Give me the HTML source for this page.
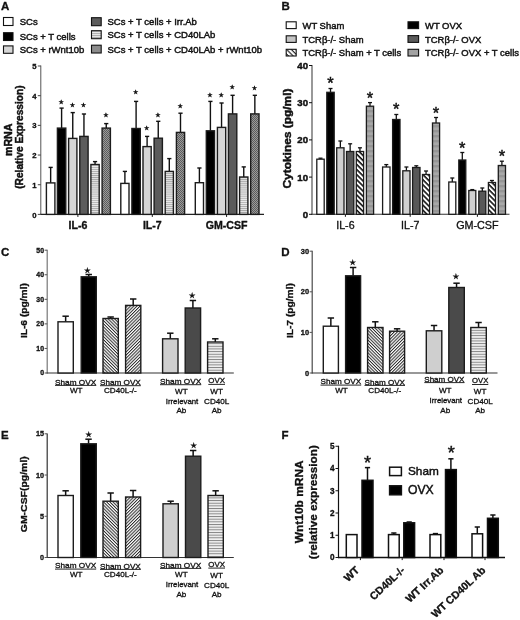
<!DOCTYPE html>
<html lang="en"><head><meta charset="utf-8"><title>Figure</title>
<style>
html,body{margin:0;padding:0;background:#fff;}
body{width:520px;height:620px;overflow:hidden;}
svg{display:block;filter:blur(0.35px);font-family:"Liberation Sans","DejaVu Sans",sans-serif;fill:#111;}
text{stroke:#111;stroke-width:0.32px;}
.lg{stroke-width:0.45px;}
.tk{stroke-width:0.32px;}
line,rect{shape-rendering:auto;}
</style></head><body>
<svg width="520" height="620" viewBox="0 0 520 620">
<defs>
<pattern id="hh" width="4" height="2.06" patternUnits="userSpaceOnUse"><rect width="4" height="2.06" fill="#ebebeb"/><rect y="0" width="4" height="0.9" fill="#a6a6a6"/></pattern>
<pattern id="hh2" width="4" height="2.66" patternUnits="userSpaceOnUse"><rect width="4" height="2.66" fill="#f0f0f0"/><rect y="0" width="4" height="0.95" fill="#858585"/></pattern>
<pattern id="dots" width="2" height="2" patternUnits="userSpaceOnUse"><rect width="2" height="2" fill="#9a9a9a"/><rect width="1" height="1" fill="#5c5c5c"/><rect x="1" y="1" width="1" height="1" fill="#5c5c5c"/></pattern>
<pattern id="d1" width="2.25" height="2.25" patternUnits="userSpaceOnUse" patternTransform="rotate(45)"><rect width="2.25" height="2.25" fill="#fff"/><rect width="2.25" height="1" fill="#2a2a2a"/></pattern>
<pattern id="d2" width="2.25" height="2.25" patternUnits="userSpaceOnUse" patternTransform="rotate(-45)"><rect width="2.25" height="2.25" fill="#fff"/><rect width="2.25" height="1" fill="#2a2a2a"/></pattern>
<pattern id="bd" width="3.6" height="3.6" patternUnits="userSpaceOnUse" patternTransform="rotate(45)"><rect width="3.6" height="3.6" fill="#fff"/><rect width="3.6" height="1.6" fill="#111"/></pattern>
<pattern id="bd2" width="3.3" height="3.3" patternUnits="userSpaceOnUse" patternTransform="rotate(45)"><rect width="3.3" height="3.3" fill="#fff"/><rect width="3.3" height="1.15" fill="#222"/></pattern>
<pattern id="bl" width="4" height="5" patternUnits="userSpaceOnUse"><rect width="4" height="5" fill="#a8a8a8"/><rect width="4" height="2.4" fill="#969696"/></pattern>
</defs>
<rect width="520" height="620" fill="#fff" stroke="none"/>

<g id="panelA">
<text x="1" y="10.2" font-size="11.5" font-weight="bold">A</text>
<rect x="3.5" y="17.5" width="9.5" height="8" fill="#fff" stroke="#111" stroke-width="1.1"/>
<text x="19.7" y="25.4" font-size="9.5" class="lg">SCs</text>
<rect x="3.5" y="32.7" width="9.5" height="7.8" fill="#000" stroke="#111" stroke-width="1.1"/>
<text x="19.7" y="40.3" font-size="9.5" class="lg">SCs + T cells</text>
<rect x="3.5" y="45.9" width="9.5" height="7.4" fill="#d6d6d6" stroke="#111" stroke-width="1.1"/>
<text x="19.7" y="53.2" font-size="9.5" class="lg">SCs + rWnt10b</text>
<rect x="91.5" y="17.7" width="9.7" height="8" fill="#5c5c5c" stroke="#111" stroke-width="1.1"/>
<text x="107.5" y="25.4" font-size="9.5" class="lg">SCs + T cells + Irr.Ab</text>
<rect x="91.5" y="30.7" width="9.7" height="8" fill="url(#hh)" stroke="#111" stroke-width="1.1"/>
<text x="107.5" y="37.8" font-size="9.5" class="lg">SCs + T cells + CD40LAb</text>
<rect x="91.5" y="45.2" width="9.7" height="7.8" fill="#8c8c8c" stroke="#111" stroke-width="1.1"/>
<text x="107.5" y="52.8" font-size="9.5" class="lg">SCs + T cells + CD40LAb + rWnt10b</text>
<line x1="40.8" y1="65.5" x2="40.8" y2="214.9" stroke="#555" stroke-width="1.0"/>
<line x1="40.3" y1="214.4" x2="264" y2="214.4" stroke="#222" stroke-width="1.1"/>
<line x1="37.8" y1="214.4" x2="40.8" y2="214.4" stroke="#444" stroke-width="1.0"/>
<text x="36.6" y="217.5" font-size="7.7" font-weight="bold" text-anchor="end">0</text>
<line x1="37.8" y1="184.72" x2="40.8" y2="184.72" stroke="#444" stroke-width="1.0"/>
<text x="36.6" y="187.82" font-size="7.7" font-weight="bold" text-anchor="end">1</text>
<line x1="37.8" y1="155.04" x2="40.8" y2="155.04" stroke="#444" stroke-width="1.0"/>
<text x="36.6" y="158.14" font-size="7.7" font-weight="bold" text-anchor="end">2</text>
<line x1="37.8" y1="125.36" x2="40.8" y2="125.36" stroke="#444" stroke-width="1.0"/>
<text x="36.6" y="128.46" font-size="7.7" font-weight="bold" text-anchor="end">3</text>
<line x1="37.8" y1="95.68" x2="40.8" y2="95.68" stroke="#444" stroke-width="1.0"/>
<text x="36.6" y="98.78" font-size="7.7" font-weight="bold" text-anchor="end">4</text>
<line x1="37.8" y1="66" x2="40.8" y2="66" stroke="#444" stroke-width="1.0"/>
<text x="36.6" y="69.1" font-size="7.7" font-weight="bold" text-anchor="end">5</text>
<text transform="translate(11.5 139.8) rotate(-90)" font-size="10" font-weight="bold" text-anchor="middle" textLength="32.5" lengthAdjust="spacingAndGlyphs" class="lg">mRNA</text>
<text transform="translate(23.4 137.1) rotate(-90)" font-size="10" font-weight="bold" text-anchor="middle" textLength="103.4" lengthAdjust="spacingAndGlyphs" class="lg">(Relative Expression)</text>
<line x1="50.65" y1="167.4" x2="50.65" y2="182.9" stroke="#111" stroke-width="1.4"/>
<line x1="48.55" y1="167.4" x2="52.75" y2="167.4" stroke="#111" stroke-width="1.4"/>
<rect x="46.4" y="182.9" width="8.5" height="31.5" fill="#fff" stroke="#1c1c1c" stroke-width="1.4"/>
<line x1="61.6" y1="108.1" x2="61.6" y2="128.1" stroke="#111" stroke-width="1.4"/>
<line x1="59.5" y1="108.1" x2="63.7" y2="108.1" stroke="#111" stroke-width="1.4"/>
<rect x="57.4" y="128.1" width="8.4" height="86.3" fill="#000" stroke="#1c1c1c" stroke-width="1.4"/>
<text x="61.2" y="103.8" font-size="6" text-anchor="middle">★</text>
<line x1="72.75" y1="112.6" x2="72.75" y2="138.4" stroke="#111" stroke-width="1.4"/>
<line x1="70.65" y1="112.6" x2="74.85" y2="112.6" stroke="#111" stroke-width="1.4"/>
<rect x="68.6" y="138.4" width="8.3" height="76" fill="#d6d6d6" stroke="#1c1c1c" stroke-width="1.4"/>
<text x="72.35" y="106.8" font-size="6" text-anchor="middle">★</text>
<line x1="83.95" y1="114" x2="83.95" y2="136.4" stroke="#111" stroke-width="1.4"/>
<line x1="81.85" y1="114" x2="86.05" y2="114" stroke="#111" stroke-width="1.4"/>
<rect x="79.8" y="136.4" width="8.3" height="78" fill="#5c5c5c" stroke="#1c1c1c" stroke-width="1.4"/>
<text x="83.55" y="106.8" font-size="6" text-anchor="middle">★</text>
<line x1="95.05" y1="161.6" x2="95.05" y2="164.5" stroke="#111" stroke-width="1.4"/>
<line x1="92.95" y1="161.6" x2="97.15" y2="161.6" stroke="#111" stroke-width="1.4"/>
<rect x="90.9" y="164.5" width="8.3" height="49.9" fill="url(#hh)" stroke="#1c1c1c" stroke-width="1.4"/>
<line x1="106.25" y1="123.6" x2="106.25" y2="128.1" stroke="#111" stroke-width="1.4"/>
<line x1="104.15" y1="123.6" x2="108.35" y2="123.6" stroke="#111" stroke-width="1.4"/>
<rect x="102.1" y="128.1" width="8.3" height="86.3" fill="url(#dots)" stroke="#1c1c1c" stroke-width="1.4"/>
<text x="105.85" y="117.3" font-size="6" text-anchor="middle">★</text>
<line x1="124.9" y1="171.4" x2="124.9" y2="183.4" stroke="#111" stroke-width="1.4"/>
<line x1="122.8" y1="171.4" x2="127" y2="171.4" stroke="#111" stroke-width="1.4"/>
<rect x="120.8" y="183.4" width="8.2" height="31" fill="#fff" stroke="#1c1c1c" stroke-width="1.4"/>
<line x1="136.1" y1="101.4" x2="136.1" y2="128.5" stroke="#111" stroke-width="1.4"/>
<line x1="134" y1="101.4" x2="138.2" y2="101.4" stroke="#111" stroke-width="1.4"/>
<rect x="131.9" y="128.5" width="8.4" height="85.9" fill="#000" stroke="#1c1c1c" stroke-width="1.4"/>
<text x="135.7" y="94.2" font-size="6" text-anchor="middle">★</text>
<line x1="147.1" y1="136.4" x2="147.1" y2="146.6" stroke="#111" stroke-width="1.4"/>
<line x1="145" y1="136.4" x2="149.2" y2="136.4" stroke="#111" stroke-width="1.4"/>
<rect x="143" y="146.6" width="8.2" height="67.8" fill="#d6d6d6" stroke="#1c1c1c" stroke-width="1.4"/>
<text x="146.7" y="130.3" font-size="6" text-anchor="middle">★</text>
<line x1="158.25" y1="121.3" x2="158.25" y2="138.2" stroke="#111" stroke-width="1.4"/>
<line x1="156.15" y1="121.3" x2="160.35" y2="121.3" stroke="#111" stroke-width="1.4"/>
<rect x="154.1" y="138.2" width="8.3" height="76.2" fill="#5c5c5c" stroke="#1c1c1c" stroke-width="1.4"/>
<text x="157.85" y="116.8" font-size="6" text-anchor="middle">★</text>
<line x1="169.3" y1="158.6" x2="169.3" y2="171.4" stroke="#111" stroke-width="1.4"/>
<line x1="167.2" y1="158.6" x2="171.4" y2="158.6" stroke="#111" stroke-width="1.4"/>
<rect x="165.2" y="171.4" width="8.2" height="43" fill="url(#hh)" stroke="#1c1c1c" stroke-width="1.4"/>
<line x1="180.5" y1="113.2" x2="180.5" y2="132.4" stroke="#111" stroke-width="1.4"/>
<line x1="178.4" y1="113.2" x2="182.6" y2="113.2" stroke="#111" stroke-width="1.4"/>
<rect x="176.4" y="132.4" width="8.2" height="82" fill="url(#dots)" stroke="#1c1c1c" stroke-width="1.4"/>
<text x="180.1" y="108.4" font-size="6" text-anchor="middle">★</text>
<line x1="199.4" y1="168" x2="199.4" y2="182.7" stroke="#111" stroke-width="1.4"/>
<line x1="197.3" y1="168" x2="201.5" y2="168" stroke="#111" stroke-width="1.4"/>
<rect x="195.3" y="182.7" width="8.2" height="31.7" fill="#fff" stroke="#1c1c1c" stroke-width="1.4"/>
<line x1="210.4" y1="101.4" x2="210.4" y2="130.8" stroke="#111" stroke-width="1.4"/>
<line x1="208.3" y1="101.4" x2="212.5" y2="101.4" stroke="#111" stroke-width="1.4"/>
<rect x="206.3" y="130.8" width="8.2" height="83.6" fill="#000" stroke="#1c1c1c" stroke-width="1.4"/>
<text x="210" y="96.5" font-size="6" text-anchor="middle">★</text>
<line x1="221.55" y1="103" x2="221.55" y2="127.4" stroke="#111" stroke-width="1.4"/>
<line x1="219.45" y1="103" x2="223.65" y2="103" stroke="#111" stroke-width="1.4"/>
<rect x="217.4" y="127.4" width="8.3" height="87" fill="#d6d6d6" stroke="#1c1c1c" stroke-width="1.4"/>
<text x="221.15" y="97.1" font-size="6" text-anchor="middle">★</text>
<line x1="232.6" y1="95.3" x2="232.6" y2="113.9" stroke="#111" stroke-width="1.4"/>
<line x1="230.5" y1="95.3" x2="234.7" y2="95.3" stroke="#111" stroke-width="1.4"/>
<rect x="228.4" y="113.9" width="8.4" height="100.5" fill="#5c5c5c" stroke="#1c1c1c" stroke-width="1.4"/>
<text x="232.2" y="88.6" font-size="6" text-anchor="middle">★</text>
<line x1="243.75" y1="166.9" x2="243.75" y2="177" stroke="#111" stroke-width="1.4"/>
<line x1="241.65" y1="166.9" x2="245.85" y2="166.9" stroke="#111" stroke-width="1.4"/>
<rect x="239.6" y="177" width="8.3" height="37.4" fill="url(#hh)" stroke="#1c1c1c" stroke-width="1.4"/>
<line x1="254.85" y1="95.3" x2="254.85" y2="113.9" stroke="#111" stroke-width="1.4"/>
<line x1="252.75" y1="95.3" x2="256.95" y2="95.3" stroke="#111" stroke-width="1.4"/>
<rect x="250.7" y="113.9" width="8.3" height="100.5" fill="url(#dots)" stroke="#1c1c1c" stroke-width="1.4"/>
<text x="254.45" y="90.4" font-size="6" text-anchor="middle">★</text>
<line x1="77.9" y1="214.4" x2="77.9" y2="216.9" stroke="#111" stroke-width="1.0"/>
<text x="77.9" y="228.6" font-size="10" font-weight="bold" text-anchor="middle" textLength="18.8" lengthAdjust="spacingAndGlyphs">IL-6</text>
<line x1="152.3" y1="214.4" x2="152.3" y2="216.9" stroke="#111" stroke-width="1.0"/>
<text x="152.3" y="228.6" font-size="10" font-weight="bold" text-anchor="middle" textLength="18.8" lengthAdjust="spacingAndGlyphs">IL-7</text>
<line x1="226.6" y1="214.4" x2="226.6" y2="216.9" stroke="#111" stroke-width="1.0"/>
<text x="226.6" y="228.6" font-size="10" font-weight="bold" text-anchor="middle" textLength="41.8" lengthAdjust="spacingAndGlyphs">GM-CSF</text>
</g>
<g id="panelB">
<text x="281.5" y="10.2" font-size="11.5" font-weight="bold">B</text>
<rect x="286.2" y="21.8" width="10" height="6.8" fill="#fff" stroke="#111" stroke-width="1.1"/>
<text x="302.5" y="28.6" font-size="9.45" class="lg">WT Sham</text>
<rect x="286.2" y="35.8" width="10" height="6.6" fill="#c4c4c4" stroke="#111" stroke-width="1.1"/>
<text x="302.5" y="42.6" font-size="9.45" class="lg">TCRβ-/- Sham</text>
<rect x="286.2" y="49.3" width="10" height="6.7" fill="url(#bd2)" stroke="#111" stroke-width="1.1"/>
<text x="302.5" y="56.4" font-size="9.45" class="lg">TCRβ-/- Sham + T cells</text>
<rect x="408" y="21.8" width="10.6" height="6.8" fill="#000" stroke="#111" stroke-width="1.1"/>
<text x="425" y="28.6" font-size="9.45" class="lg">WT OVX</text>
<rect x="408" y="35.6" width="10.6" height="6.8" fill="#5a5a5a" stroke="#111" stroke-width="1.1"/>
<text x="425" y="42.6" font-size="9.45" class="lg">TCRβ-/- OVX</text>
<rect x="408" y="49.3" width="10.6" height="6.7" fill="#a2a2a2" stroke="#111" stroke-width="1.1"/>
<text x="425" y="56.4" font-size="9.45" class="lg">TCRβ-/- OVX + T cells</text>
<line x1="312" y1="65" x2="312" y2="214.8" stroke="#444" stroke-width="1.1"/>
<line x1="311.5" y1="214.3" x2="509.5" y2="214.3" stroke="#333" stroke-width="1.1"/>
<line x1="309" y1="214.3" x2="312" y2="214.3" stroke="#111" stroke-width="1.0"/>
<text x="308" y="217.8" font-size="9.6" font-weight="bold" text-anchor="end" class="lg">0</text>
<line x1="309" y1="177.1" x2="312" y2="177.1" stroke="#111" stroke-width="1.0"/>
<text x="308" y="180.6" font-size="9.6" font-weight="bold" text-anchor="end" class="lg">10</text>
<line x1="309" y1="139.9" x2="312" y2="139.9" stroke="#111" stroke-width="1.0"/>
<text x="308" y="143.4" font-size="9.6" font-weight="bold" text-anchor="end" class="lg">20</text>
<line x1="309" y1="102.7" x2="312" y2="102.7" stroke="#111" stroke-width="1.0"/>
<text x="308" y="106.2" font-size="9.6" font-weight="bold" text-anchor="end" class="lg">30</text>
<line x1="309" y1="65.5" x2="312" y2="65.5" stroke="#111" stroke-width="1.0"/>
<text x="308" y="69" font-size="9.6" font-weight="bold" text-anchor="end" class="lg">40</text>
<text transform="translate(290.9 138.5) rotate(-90)" font-size="10.6" font-weight="bold" text-anchor="middle" textLength="100" lengthAdjust="spacingAndGlyphs" class="lg">Cytokines (pg/ml)</text>
<line x1="320.5" y1="158.2" x2="320.5" y2="159.2" stroke="#111" stroke-width="1.3"/>
<line x1="318.5" y1="158.2" x2="322.5" y2="158.2" stroke="#111" stroke-width="1.3"/>
<rect x="316.8" y="159.2" width="7.4" height="55.1" fill="#fff" stroke="#1c1c1c" stroke-width="1.3"/>
<line x1="330.5" y1="88.5" x2="330.5" y2="92.3" stroke="#111" stroke-width="1.3"/>
<line x1="328.5" y1="88.5" x2="332.5" y2="88.5" stroke="#111" stroke-width="1.3"/>
<rect x="326.8" y="92.3" width="7.4" height="122" fill="#000" stroke="#1c1c1c" stroke-width="1.3"/>
<text x="330.5" y="89.2" font-size="16.5" text-anchor="middle" class="lg">*</text>
<line x1="340.35" y1="141" x2="340.35" y2="147.8" stroke="#111" stroke-width="1.3"/>
<line x1="338.35" y1="141" x2="342.35" y2="141" stroke="#111" stroke-width="1.3"/>
<rect x="336.7" y="147.8" width="7.3" height="66.5" fill="#d0d0d0" stroke="#1c1c1c" stroke-width="1.3"/>
<line x1="350.15" y1="143.8" x2="350.15" y2="151.5" stroke="#111" stroke-width="1.3"/>
<line x1="348.15" y1="143.8" x2="352.15" y2="143.8" stroke="#111" stroke-width="1.3"/>
<rect x="346.5" y="151.5" width="7.3" height="62.8" fill="#585858" stroke="#1c1c1c" stroke-width="1.3"/>
<line x1="359.95" y1="147.8" x2="359.95" y2="151.5" stroke="#111" stroke-width="1.3"/>
<line x1="357.95" y1="147.8" x2="361.95" y2="147.8" stroke="#111" stroke-width="1.3"/>
<rect x="356.3" y="151.5" width="7.3" height="62.8" fill="url(#bd)" stroke="#1c1c1c" stroke-width="1.3"/>
<line x1="370" y1="102.6" x2="370" y2="106.2" stroke="#111" stroke-width="1.3"/>
<line x1="368" y1="102.6" x2="372" y2="102.6" stroke="#111" stroke-width="1.3"/>
<rect x="366.4" y="106.2" width="7.2" height="108.1" fill="url(#bl)" stroke="#1c1c1c" stroke-width="1.3"/>
<text x="370" y="104.2" font-size="16.5" text-anchor="middle" class="lg">*</text>
<line x1="386.3" y1="164.6" x2="386.3" y2="167" stroke="#111" stroke-width="1.3"/>
<line x1="384.3" y1="164.6" x2="388.3" y2="164.6" stroke="#111" stroke-width="1.3"/>
<rect x="382.6" y="167" width="7.4" height="47.3" fill="#fff" stroke="#1c1c1c" stroke-width="1.3"/>
<line x1="396.3" y1="114.5" x2="396.3" y2="119.5" stroke="#111" stroke-width="1.3"/>
<line x1="394.3" y1="114.5" x2="398.3" y2="114.5" stroke="#111" stroke-width="1.3"/>
<rect x="392.6" y="119.5" width="7.4" height="94.8" fill="#000" stroke="#1c1c1c" stroke-width="1.3"/>
<text x="396.3" y="114.5" font-size="16.5" text-anchor="middle" class="lg">*</text>
<line x1="406.4" y1="167" x2="406.4" y2="170.8" stroke="#111" stroke-width="1.3"/>
<line x1="404.4" y1="167" x2="408.4" y2="167" stroke="#111" stroke-width="1.3"/>
<rect x="402.8" y="170.8" width="7.2" height="43.5" fill="#d0d0d0" stroke="#1c1c1c" stroke-width="1.3"/>
<line x1="416.3" y1="165.8" x2="416.3" y2="167.5" stroke="#111" stroke-width="1.3"/>
<line x1="414.3" y1="165.8" x2="418.3" y2="165.8" stroke="#111" stroke-width="1.3"/>
<rect x="412.6" y="167.5" width="7.4" height="46.8" fill="#585858" stroke="#1c1c1c" stroke-width="1.3"/>
<line x1="426.05" y1="171" x2="426.05" y2="174.5" stroke="#111" stroke-width="1.3"/>
<line x1="424.05" y1="171" x2="428.05" y2="171" stroke="#111" stroke-width="1.3"/>
<rect x="422.5" y="174.5" width="7.1" height="39.8" fill="url(#bd)" stroke="#1c1c1c" stroke-width="1.3"/>
<line x1="436.05" y1="117.5" x2="436.05" y2="123" stroke="#111" stroke-width="1.3"/>
<line x1="434.05" y1="117.5" x2="438.05" y2="117.5" stroke="#111" stroke-width="1.3"/>
<rect x="432.5" y="123" width="7.1" height="91.3" fill="url(#bl)" stroke="#1c1c1c" stroke-width="1.3"/>
<text x="436.05" y="119.2" font-size="16.5" text-anchor="middle" class="lg">*</text>
<line x1="452.3" y1="178" x2="452.3" y2="182" stroke="#111" stroke-width="1.3"/>
<line x1="450.3" y1="178" x2="454.3" y2="178" stroke="#111" stroke-width="1.3"/>
<rect x="448.8" y="182" width="7" height="32.3" fill="#fff" stroke="#1c1c1c" stroke-width="1.3"/>
<line x1="462.3" y1="152.5" x2="462.3" y2="160" stroke="#111" stroke-width="1.3"/>
<line x1="460.3" y1="152.5" x2="464.3" y2="152.5" stroke="#111" stroke-width="1.3"/>
<rect x="458.8" y="160" width="7" height="54.3" fill="#000" stroke="#1c1c1c" stroke-width="1.3"/>
<text x="462.3" y="154.2" font-size="16.5" text-anchor="middle" class="lg">*</text>
<line x1="472.3" y1="189.6" x2="472.3" y2="190.5" stroke="#111" stroke-width="1.3"/>
<line x1="470.3" y1="189.6" x2="474.3" y2="189.6" stroke="#111" stroke-width="1.3"/>
<rect x="468.8" y="190.5" width="7" height="23.8" fill="#d0d0d0" stroke="#1c1c1c" stroke-width="1.3"/>
<line x1="482.3" y1="188" x2="482.3" y2="191.2" stroke="#111" stroke-width="1.3"/>
<line x1="480.3" y1="188" x2="484.3" y2="188" stroke="#111" stroke-width="1.3"/>
<rect x="478.8" y="191.2" width="7" height="23.1" fill="#585858" stroke="#1c1c1c" stroke-width="1.3"/>
<line x1="491.95" y1="180.5" x2="491.95" y2="182.5" stroke="#111" stroke-width="1.3"/>
<line x1="489.95" y1="180.5" x2="493.95" y2="180.5" stroke="#111" stroke-width="1.3"/>
<rect x="488.4" y="182.5" width="7.1" height="31.8" fill="url(#bd)" stroke="#1c1c1c" stroke-width="1.3"/>
<line x1="501.9" y1="161.2" x2="501.9" y2="165.5" stroke="#111" stroke-width="1.3"/>
<line x1="499.9" y1="161.2" x2="503.9" y2="161.2" stroke="#111" stroke-width="1.3"/>
<rect x="498.3" y="165.5" width="7.2" height="48.8" fill="url(#bl)" stroke="#1c1c1c" stroke-width="1.3"/>
<text x="501.9" y="162.2" font-size="16.5" text-anchor="middle" class="lg">*</text>
<line x1="345.4" y1="214.3" x2="345.4" y2="216.8" stroke="#111" stroke-width="1.0"/>
<text x="345.4" y="229.4" font-size="10.5" text-anchor="middle" textLength="18.3" lengthAdjust="spacingAndGlyphs">IL-6</text>
<line x1="410.2" y1="214.3" x2="410.2" y2="216.8" stroke="#111" stroke-width="1.0"/>
<text x="410.2" y="229.4" font-size="10.5" text-anchor="middle" textLength="18.3" lengthAdjust="spacingAndGlyphs">IL-7</text>
<line x1="477.4" y1="214.3" x2="477.4" y2="216.8" stroke="#111" stroke-width="1.0"/>
<text x="477.4" y="229.4" font-size="10.5" text-anchor="middle" textLength="42.5" lengthAdjust="spacingAndGlyphs">GM-CSF</text>
</g>
<g id="panelC">
<text x="1" y="256.2" font-size="11.5" font-weight="bold">C</text>
<line x1="47.2" y1="249.8" x2="47.2" y2="373.5" stroke="#777" stroke-width="1.2"/>
<line x1="46.7" y1="373" x2="233.8" y2="373" stroke="#333" stroke-width="1.2"/>
<line x1="44.6" y1="373" x2="47.2" y2="373" stroke="#555" stroke-width="1.0"/>
<text x="44" y="375.48" font-size="6.9" font-weight="bold" text-anchor="end" class="tk">0</text>
<line x1="44.6" y1="348.44" x2="47.2" y2="348.44" stroke="#555" stroke-width="1.0"/>
<text x="44" y="350.92" font-size="6.9" font-weight="bold" text-anchor="end" class="tk">10</text>
<line x1="44.6" y1="323.88" x2="47.2" y2="323.88" stroke="#555" stroke-width="1.0"/>
<text x="44" y="326.36" font-size="6.9" font-weight="bold" text-anchor="end" class="tk">20</text>
<line x1="44.6" y1="299.32" x2="47.2" y2="299.32" stroke="#555" stroke-width="1.0"/>
<text x="44" y="301.8" font-size="6.9" font-weight="bold" text-anchor="end" class="tk">30</text>
<line x1="44.6" y1="274.76" x2="47.2" y2="274.76" stroke="#555" stroke-width="1.0"/>
<text x="44" y="277.24" font-size="6.9" font-weight="bold" text-anchor="end" class="tk">40</text>
<line x1="44.6" y1="250.2" x2="47.2" y2="250.2" stroke="#555" stroke-width="1.0"/>
<text x="44" y="252.68" font-size="6.9" font-weight="bold" text-anchor="end" class="tk">50</text>
<text transform="translate(27.2 310.6) rotate(-90)" font-size="9.4" font-weight="bold" text-anchor="middle" textLength="55" lengthAdjust="spacingAndGlyphs">IL-6 (pg/ml)</text>
<line x1="65.65" y1="316.2" x2="65.65" y2="321.8" stroke="#111" stroke-width="1.5"/>
<line x1="62.45" y1="316.2" x2="68.85" y2="316.2" stroke="#111" stroke-width="1.5"/>
<rect x="58" y="321.8" width="15.3" height="51.2" fill="#fff" stroke="#1c1c1c" stroke-width="1.4"/>
<line x1="88.75" y1="274.5" x2="88.75" y2="276.8" stroke="#111" stroke-width="1.5"/>
<line x1="85.55" y1="274.5" x2="91.95" y2="274.5" stroke="#111" stroke-width="1.5"/>
<rect x="81.2" y="276.8" width="15.1" height="96.2" fill="#000" stroke="#1c1c1c" stroke-width="1.4"/>
<line x1="110.65" y1="317" x2="110.65" y2="318.5" stroke="#111" stroke-width="1.5"/>
<line x1="107.45" y1="317" x2="113.85" y2="317" stroke="#111" stroke-width="1.5"/>
<rect x="103" y="318.5" width="15.3" height="54.5" fill="url(#d1)" stroke="#1c1c1c" stroke-width="1.4"/>
<line x1="133.2" y1="299" x2="133.2" y2="305.4" stroke="#111" stroke-width="1.5"/>
<line x1="130" y1="299" x2="136.4" y2="299" stroke="#111" stroke-width="1.5"/>
<rect x="125.6" y="305.4" width="15.2" height="67.6" fill="url(#d2)" stroke="#1c1c1c" stroke-width="1.4"/>
<line x1="170.3" y1="333.2" x2="170.3" y2="338.8" stroke="#111" stroke-width="1.5"/>
<line x1="167.1" y1="333.2" x2="173.5" y2="333.2" stroke="#111" stroke-width="1.5"/>
<rect x="162.6" y="338.8" width="15.4" height="34.2" fill="#cfcfcf" stroke="#1c1c1c" stroke-width="1.4"/>
<line x1="192.9" y1="300.5" x2="192.9" y2="308" stroke="#111" stroke-width="1.5"/>
<line x1="189.7" y1="300.5" x2="196.1" y2="300.5" stroke="#111" stroke-width="1.5"/>
<rect x="185.2" y="308" width="15.4" height="65" fill="#4a4a4a" stroke="#1c1c1c" stroke-width="1.4"/>
<line x1="215.3" y1="338.8" x2="215.3" y2="342" stroke="#111" stroke-width="1.5"/>
<line x1="212.1" y1="338.8" x2="218.5" y2="338.8" stroke="#111" stroke-width="1.5"/>
<rect x="207.6" y="342" width="15.4" height="31" fill="url(#hh2)" stroke="#1c1c1c" stroke-width="1.4"/>
<text x="87.3" y="272.6" font-size="7.6" text-anchor="middle">★</text>
<text x="192.2" y="297.8" font-size="7.6" text-anchor="middle">★</text>
<text x="55" y="384.5" font-size="8.1" textLength="41.2" lengthAdjust="spacingAndGlyphs">Sham OVX</text>
<line x1="55" y1="385.4" x2="96.2" y2="385.4" stroke="#111" stroke-width="0.9"/>
<text x="76.2" y="392.8" font-size="8.1" text-anchor="middle">WT</text>
<text x="100" y="384.8" font-size="8.1" textLength="40.8" lengthAdjust="spacingAndGlyphs">Sham OVX</text>
<line x1="100" y1="385.7" x2="140.8" y2="385.7" stroke="#111" stroke-width="0.9"/>
<text x="120.4" y="392.8" font-size="8.1" text-anchor="middle">CD40L-/-</text>
<text x="160" y="383.9" font-size="8.1" textLength="41.2" lengthAdjust="spacingAndGlyphs">Sham OVX</text>
<line x1="160" y1="384.7" x2="201.2" y2="384.7" stroke="#111" stroke-width="0.9"/>
<text x="181.4" y="393.5" font-size="8.1" text-anchor="middle">WT</text>
<text x="182" y="403.7" font-size="7.8" text-anchor="middle">Irrelevant</text>
<text x="181.4" y="413.1" font-size="8.1" text-anchor="middle">Ab</text>
<text x="208.3" y="383.3" font-size="8.1" textLength="16.7" lengthAdjust="spacingAndGlyphs">OVX</text>
<line x1="208.3" y1="384.4" x2="225" y2="384.4" stroke="#111" stroke-width="0.9"/>
<text x="216.65" y="394.4" font-size="8.1" text-anchor="middle">WT</text>
<text x="216.65" y="403.8" font-size="8.1" text-anchor="middle">CD40L</text>
<text x="216.65" y="413.4" font-size="8.1" text-anchor="middle">Ab</text>
</g>
<g id="panelD">
<text x="281.3" y="256.2" font-size="11.5" font-weight="bold">D</text>
<line x1="312.2" y1="250.8" x2="312.2" y2="373.5" stroke="#4a4a4a" stroke-width="1.2"/>
<line x1="311.7" y1="373" x2="497.5" y2="373" stroke="#333" stroke-width="1.2"/>
<line x1="309.6" y1="373" x2="312.2" y2="373" stroke="#555" stroke-width="1.0"/>
<text x="309" y="375.66" font-size="7.4" font-weight="bold" text-anchor="end" class="tk">0</text>
<line x1="309.6" y1="332.4" x2="312.2" y2="332.4" stroke="#555" stroke-width="1.0"/>
<text x="309" y="335.06" font-size="7.4" font-weight="bold" text-anchor="end" class="tk">10</text>
<line x1="309.6" y1="291.8" x2="312.2" y2="291.8" stroke="#555" stroke-width="1.0"/>
<text x="309" y="294.46" font-size="7.4" font-weight="bold" text-anchor="end" class="tk">20</text>
<line x1="309.6" y1="251.2" x2="312.2" y2="251.2" stroke="#555" stroke-width="1.0"/>
<text x="309" y="253.86" font-size="7.4" font-weight="bold" text-anchor="end" class="tk">30</text>
<text transform="translate(292.6 310.6) rotate(-90)" font-size="9.4" font-weight="bold" text-anchor="middle" textLength="55" lengthAdjust="spacingAndGlyphs">IL-7 (pg/ml)</text>
<line x1="330.85" y1="318" x2="330.85" y2="326.2" stroke="#111" stroke-width="1.5"/>
<line x1="327.65" y1="318" x2="334.05" y2="318" stroke="#111" stroke-width="1.5"/>
<rect x="323.3" y="326.2" width="15.1" height="46.8" fill="#fff" stroke="#1c1c1c" stroke-width="1.4"/>
<line x1="353.1" y1="267.5" x2="353.1" y2="275.8" stroke="#111" stroke-width="1.5"/>
<line x1="349.9" y1="267.5" x2="356.3" y2="267.5" stroke="#111" stroke-width="1.5"/>
<rect x="345.6" y="275.8" width="15" height="97.2" fill="#000" stroke="#1c1c1c" stroke-width="1.4"/>
<line x1="375.3" y1="321.8" x2="375.3" y2="327.5" stroke="#111" stroke-width="1.5"/>
<line x1="372.1" y1="321.8" x2="378.5" y2="321.8" stroke="#111" stroke-width="1.5"/>
<rect x="367.6" y="327.5" width="15.4" height="45.5" fill="url(#d1)" stroke="#1c1c1c" stroke-width="1.4"/>
<line x1="397.1" y1="328.8" x2="397.1" y2="331.2" stroke="#111" stroke-width="1.5"/>
<line x1="393.9" y1="328.8" x2="400.3" y2="328.8" stroke="#111" stroke-width="1.5"/>
<rect x="389.6" y="331.2" width="15" height="41.8" fill="url(#d2)" stroke="#1c1c1c" stroke-width="1.4"/>
<line x1="434.05" y1="325.5" x2="434.05" y2="330.8" stroke="#111" stroke-width="1.5"/>
<line x1="430.85" y1="325.5" x2="437.25" y2="325.5" stroke="#111" stroke-width="1.5"/>
<rect x="426.3" y="330.8" width="15.5" height="42.2" fill="#cfcfcf" stroke="#1c1c1c" stroke-width="1.4"/>
<line x1="456.55" y1="283.2" x2="456.55" y2="287.5" stroke="#111" stroke-width="1.5"/>
<line x1="453.35" y1="283.2" x2="459.75" y2="283.2" stroke="#111" stroke-width="1.5"/>
<rect x="448.8" y="287.5" width="15.5" height="85.5" fill="#4a4a4a" stroke="#1c1c1c" stroke-width="1.4"/>
<line x1="478.55" y1="322.5" x2="478.55" y2="327.5" stroke="#111" stroke-width="1.5"/>
<line x1="475.35" y1="322.5" x2="481.75" y2="322.5" stroke="#111" stroke-width="1.5"/>
<rect x="470.8" y="327.5" width="15.5" height="45.5" fill="url(#hh2)" stroke="#1c1c1c" stroke-width="1.4"/>
<text x="352.7" y="265.3" font-size="7.6" text-anchor="middle">★</text>
<text x="455.9" y="279" font-size="7.6" text-anchor="middle">★</text>
<text x="320.5" y="384.2" font-size="8.1" textLength="40.7" lengthAdjust="spacingAndGlyphs">Sham OVX</text>
<line x1="320.5" y1="385.1" x2="361.2" y2="385.1" stroke="#111" stroke-width="0.9"/>
<text x="341.45" y="393" font-size="8.1" text-anchor="middle">WT</text>
<text x="364.5" y="384.5" font-size="8.1" textLength="40.5" lengthAdjust="spacingAndGlyphs">Sham OVX</text>
<line x1="364.5" y1="385.4" x2="405" y2="385.4" stroke="#111" stroke-width="0.9"/>
<text x="384.75" y="393.1" font-size="8.1" text-anchor="middle">CD40L-/-</text>
<text x="424.3" y="381.8" font-size="8.1" textLength="40.2" lengthAdjust="spacingAndGlyphs">Sham OVX</text>
<line x1="424.3" y1="382.6" x2="464.5" y2="382.6" stroke="#111" stroke-width="0.9"/>
<text x="445.2" y="393.2" font-size="8.1" text-anchor="middle">WT</text>
<text x="445.8" y="403.4" font-size="7.8" text-anchor="middle">Irrelevant</text>
<text x="445.2" y="412.8" font-size="8.1" text-anchor="middle">Ab</text>
<text x="472" y="383.4" font-size="8.1" textLength="16.3" lengthAdjust="spacingAndGlyphs">OVX</text>
<line x1="472" y1="384.5" x2="488.3" y2="384.5" stroke="#111" stroke-width="0.9"/>
<text x="480.15" y="394.1" font-size="8.1" text-anchor="middle">WT</text>
<text x="480.15" y="403.5" font-size="8.1" text-anchor="middle">CD40L</text>
<text x="480.15" y="413.1" font-size="8.1" text-anchor="middle">Ab</text>
</g>
<g id="panelE">
<text x="1" y="439.4" font-size="11.5" font-weight="bold">E</text>
<line x1="47.2" y1="433.4" x2="47.2" y2="558" stroke="#333" stroke-width="1.2"/>
<line x1="46.7" y1="557.5" x2="233.8" y2="557.5" stroke="#333" stroke-width="1.2"/>
<line x1="44.6" y1="557.5" x2="47.2" y2="557.5" stroke="#555" stroke-width="1.0"/>
<text x="44" y="560.09" font-size="7.2" font-weight="bold" text-anchor="end" class="tk">0</text>
<line x1="44.6" y1="516.27" x2="47.2" y2="516.27" stroke="#555" stroke-width="1.0"/>
<text x="44" y="518.86" font-size="7.2" font-weight="bold" text-anchor="end" class="tk">5</text>
<line x1="44.6" y1="475.03" x2="47.2" y2="475.03" stroke="#555" stroke-width="1.0"/>
<text x="44" y="477.63" font-size="7.2" font-weight="bold" text-anchor="end" class="tk">10</text>
<line x1="44.6" y1="433.8" x2="47.2" y2="433.8" stroke="#555" stroke-width="1.0"/>
<text x="44" y="436.39" font-size="7.2" font-weight="bold" text-anchor="end" class="tk">15</text>
<text transform="translate(26.8 494.2) rotate(-90)" font-size="9.7" font-weight="bold" text-anchor="middle" textLength="76" lengthAdjust="spacingAndGlyphs">GM-CSF(pg/ml)</text>
<line x1="65.65" y1="490.8" x2="65.65" y2="495.5" stroke="#111" stroke-width="1.5"/>
<line x1="62.45" y1="490.8" x2="68.85" y2="490.8" stroke="#111" stroke-width="1.5"/>
<rect x="58" y="495.5" width="15.3" height="62" fill="#fff" stroke="#1c1c1c" stroke-width="1.4"/>
<line x1="88.55" y1="439.2" x2="88.55" y2="443.8" stroke="#111" stroke-width="1.5"/>
<line x1="85.35" y1="439.2" x2="91.75" y2="439.2" stroke="#111" stroke-width="1.5"/>
<rect x="80.8" y="443.8" width="15.5" height="113.7" fill="#000" stroke="#1c1c1c" stroke-width="1.4"/>
<line x1="110.65" y1="493" x2="110.65" y2="501.2" stroke="#111" stroke-width="1.5"/>
<line x1="107.45" y1="493" x2="113.85" y2="493" stroke="#111" stroke-width="1.5"/>
<rect x="103" y="501.2" width="15.3" height="56.3" fill="url(#d1)" stroke="#1c1c1c" stroke-width="1.4"/>
<line x1="133.1" y1="490.5" x2="133.1" y2="497" stroke="#111" stroke-width="1.5"/>
<line x1="129.9" y1="490.5" x2="136.3" y2="490.5" stroke="#111" stroke-width="1.5"/>
<rect x="125.6" y="497" width="15" height="60.5" fill="url(#d2)" stroke="#1c1c1c" stroke-width="1.4"/>
<line x1="170.65" y1="501.2" x2="170.65" y2="503.8" stroke="#111" stroke-width="1.5"/>
<line x1="167.45" y1="501.2" x2="173.85" y2="501.2" stroke="#111" stroke-width="1.5"/>
<rect x="163" y="503.8" width="15.3" height="53.7" fill="#cfcfcf" stroke="#1c1c1c" stroke-width="1.4"/>
<line x1="193.15" y1="450.5" x2="193.15" y2="456.2" stroke="#111" stroke-width="1.5"/>
<line x1="189.95" y1="450.5" x2="196.35" y2="450.5" stroke="#111" stroke-width="1.5"/>
<rect x="185.5" y="456.2" width="15.3" height="101.3" fill="#4a4a4a" stroke="#1c1c1c" stroke-width="1.4"/>
<line x1="215.65" y1="490.8" x2="215.65" y2="495.5" stroke="#111" stroke-width="1.5"/>
<line x1="212.45" y1="490.8" x2="218.85" y2="490.8" stroke="#111" stroke-width="1.5"/>
<rect x="208" y="495.5" width="15.3" height="62" fill="url(#hh2)" stroke="#1c1c1c" stroke-width="1.4"/>
<text x="88.6" y="436.8" font-size="7.6" text-anchor="middle">★</text>
<text x="193.7" y="447.8" font-size="7.6" text-anchor="middle">★</text>
<text x="55" y="568.2" font-size="8.1" textLength="41.2" lengthAdjust="spacingAndGlyphs">Sham OVX</text>
<line x1="55" y1="569.1" x2="96.2" y2="569.1" stroke="#111" stroke-width="0.9"/>
<text x="76.2" y="576.5" font-size="8.1" text-anchor="middle">WT</text>
<text x="100" y="568.5" font-size="8.1" textLength="40.8" lengthAdjust="spacingAndGlyphs">Sham OVX</text>
<line x1="100" y1="569.4" x2="140.8" y2="569.4" stroke="#111" stroke-width="0.9"/>
<text x="120.4" y="576.5" font-size="8.1" text-anchor="middle">CD40L-/-</text>
<text x="160" y="567.6" font-size="8.1" textLength="41.2" lengthAdjust="spacingAndGlyphs">Sham OVX</text>
<line x1="160" y1="568.4" x2="201.2" y2="568.4" stroke="#111" stroke-width="0.9"/>
<text x="181.4" y="577.2" font-size="8.1" text-anchor="middle">WT</text>
<text x="182" y="587.4" font-size="7.8" text-anchor="middle">Irrelevant</text>
<text x="181.4" y="596.8" font-size="8.1" text-anchor="middle">Ab</text>
<text x="208.3" y="567" font-size="8.1" textLength="16.7" lengthAdjust="spacingAndGlyphs">OVX</text>
<line x1="208.3" y1="568.1" x2="225" y2="568.1" stroke="#111" stroke-width="0.9"/>
<text x="216.65" y="578.1" font-size="8.1" text-anchor="middle">WT</text>
<text x="216.65" y="587.5" font-size="8.1" text-anchor="middle">CD40L</text>
<text x="216.65" y="597.1" font-size="8.1" text-anchor="middle">Ab</text>
</g>
<g id="panelF">
<text x="281.5" y="438.6" font-size="11.5" font-weight="bold">F</text>
<line x1="338.5" y1="445.75" x2="338.5" y2="558.1" stroke="#111" stroke-width="1.2"/>
<line x1="338" y1="557.5" x2="505" y2="557.5" stroke="#111" stroke-width="1.5"/>
<line x1="335.5" y1="557.5" x2="338.5" y2="557.5" stroke="#111" stroke-width="1.0"/>
<text x="334.5" y="560.4" font-size="8.2" font-weight="bold" text-anchor="end">0</text>
<line x1="335.5" y1="535.25" x2="338.5" y2="535.25" stroke="#111" stroke-width="1.0"/>
<text x="334.5" y="538.15" font-size="8.2" font-weight="bold" text-anchor="end">1</text>
<line x1="335.5" y1="513" x2="338.5" y2="513" stroke="#111" stroke-width="1.0"/>
<text x="334.5" y="515.9" font-size="8.2" font-weight="bold" text-anchor="end">2</text>
<line x1="335.5" y1="490.75" x2="338.5" y2="490.75" stroke="#111" stroke-width="1.0"/>
<text x="334.5" y="493.65" font-size="8.2" font-weight="bold" text-anchor="end">3</text>
<line x1="335.5" y1="468.5" x2="338.5" y2="468.5" stroke="#111" stroke-width="1.0"/>
<text x="334.5" y="471.4" font-size="8.2" font-weight="bold" text-anchor="end">4</text>
<line x1="335.5" y1="446.25" x2="338.5" y2="446.25" stroke="#111" stroke-width="1.0"/>
<text x="334.5" y="449.15" font-size="8.2" font-weight="bold" text-anchor="end">5</text>
<text transform="translate(302.5 501.8) rotate(-90)" font-size="11.4" font-weight="bold" text-anchor="middle" textLength="83" lengthAdjust="spacingAndGlyphs">Wnt10b mRNA</text>
<text transform="translate(317.2 502.2) rotate(-90)" font-size="11.3" font-weight="bold" text-anchor="middle" textLength="114" lengthAdjust="spacingAndGlyphs">(relative expression)</text>
<rect x="346.3" y="534.6" width="10.7" height="22.9" fill="#fff" stroke="#111" stroke-width="1.5"/>
<line x1="367.5" y1="467.6" x2="367.5" y2="480.3" stroke="#111" stroke-width="1.5"/>
<line x1="364.9" y1="467.6" x2="370.1" y2="467.6" stroke="#111" stroke-width="1.5"/>
<rect x="362" y="480.3" width="11" height="77.2" fill="#000" stroke="#111" stroke-width="1.5"/>
<line x1="393.85" y1="533" x2="393.85" y2="534.6" stroke="#111" stroke-width="1.5"/>
<line x1="391.25" y1="533" x2="396.45" y2="533" stroke="#111" stroke-width="1.5"/>
<rect x="388.5" y="534.6" width="10.7" height="22.9" fill="#fff" stroke="#111" stroke-width="1.5"/>
<line x1="409.2" y1="522" x2="409.2" y2="522.8" stroke="#111" stroke-width="1.5"/>
<line x1="406.6" y1="522" x2="411.8" y2="522" stroke="#111" stroke-width="1.5"/>
<rect x="403.8" y="522.8" width="10.8" height="34.7" fill="#000" stroke="#111" stroke-width="1.5"/>
<line x1="435.4" y1="533.6" x2="435.4" y2="534.6" stroke="#111" stroke-width="1.5"/>
<line x1="432.8" y1="533.6" x2="438" y2="533.6" stroke="#111" stroke-width="1.5"/>
<rect x="430" y="534.6" width="10.8" height="22.9" fill="#fff" stroke="#111" stroke-width="1.5"/>
<line x1="450.9" y1="458.8" x2="450.9" y2="469.6" stroke="#111" stroke-width="1.5"/>
<line x1="448.3" y1="458.8" x2="453.5" y2="458.8" stroke="#111" stroke-width="1.5"/>
<rect x="445.5" y="469.6" width="10.8" height="87.9" fill="#000" stroke="#111" stroke-width="1.5"/>
<line x1="477.3" y1="527" x2="477.3" y2="533.8" stroke="#111" stroke-width="1.5"/>
<line x1="474.7" y1="527" x2="479.9" y2="527" stroke="#111" stroke-width="1.5"/>
<rect x="472" y="533.8" width="10.6" height="23.7" fill="#fff" stroke="#111" stroke-width="1.5"/>
<line x1="492.9" y1="515" x2="492.9" y2="518.3" stroke="#111" stroke-width="1.5"/>
<line x1="490.3" y1="515" x2="495.5" y2="515" stroke="#111" stroke-width="1.5"/>
<rect x="487.5" y="518.3" width="10.8" height="39.2" fill="#000" stroke="#111" stroke-width="1.5"/>
<text x="367.5" y="468.5" font-size="18.2" text-anchor="middle" class="lg">*</text>
<text x="451.2" y="458.5" font-size="18.2" text-anchor="middle" class="lg">*</text>
<line x1="360.4" y1="557.5" x2="360.4" y2="560.1" stroke="#111" stroke-width="1.0"/>
<line x1="402.2" y1="557.5" x2="402.2" y2="560.1" stroke="#111" stroke-width="1.0"/>
<line x1="444" y1="557.5" x2="444" y2="560.1" stroke="#111" stroke-width="1.0"/>
<line x1="485" y1="557.5" x2="485" y2="560.1" stroke="#111" stroke-width="1.0"/>
<rect x="389.6" y="467.2" width="11.8" height="8.4" fill="#fff" stroke="#111" stroke-width="1.5"/>
<text x="408" y="475.2" font-size="11.8" class="lg">Sham</text>
<rect x="389.6" y="485.8" width="11.8" height="9" fill="#000" stroke="#111" stroke-width="1.5"/>
<text x="408" y="494.2" font-size="12.2" class="lg">OVX</text>
<text transform="translate(360 571) rotate(-43)" font-size="10.6" font-weight="bold" text-anchor="end">WT</text>
<text transform="translate(405.6 571) rotate(-43)" font-size="10.6" font-weight="bold" text-anchor="end">CD40L-/-</text>
<text transform="translate(444.2 571) rotate(-43)" font-size="10.6" font-weight="bold" text-anchor="end">WT Irr.Ab</text>
<text transform="translate(486.2 571) rotate(-43)" font-size="10.6" font-weight="bold" text-anchor="end">WT CD40L Ab</text>
</g>
</svg>
</body></html>
